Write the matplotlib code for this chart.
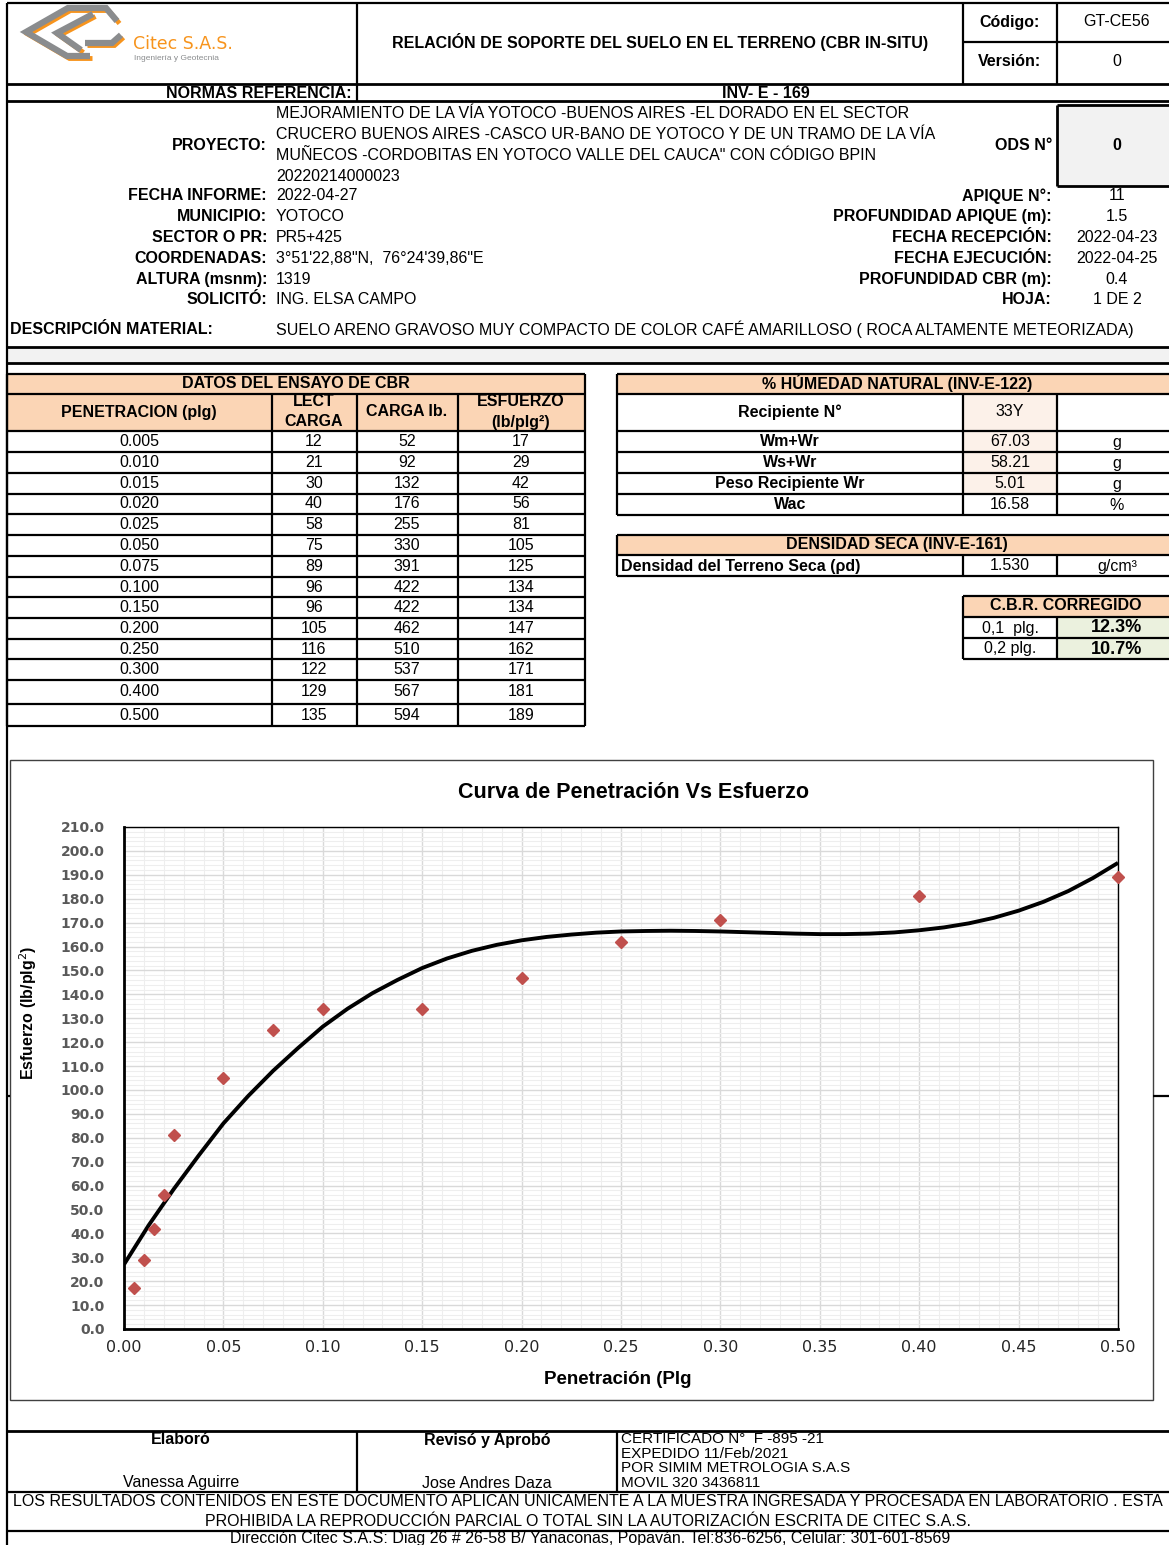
import numpy as np
import matplotlib
matplotlib.use("Agg")
import matplotlib.pyplot as plt
from matplotlib import font_manager
from matplotlib.patches import Rectangle
from matplotlib.ticker import MultipleLocator, FormatStrFormatter

plt.rcParams['font.family'] = ['Liberation Sans', 'DejaVu Sans']

# datos del ensayo CBR
penetracion = [0.005, 0.010, 0.015, 0.020, 0.025, 0.050, 0.075,
               0.100, 0.150, 0.200, 0.250, 0.300, 0.400, 0.500]
lect_carga = [12, 21, 30, 40, 58, 75, 89, 96, 96, 105, 116, 122, 129, 135]
carga_lb = [52, 92, 132, 176, 255, 330, 391, 422, 422, 462, 510, 537, 567, 594]
esfuerzo = [17, 29, 42, 56, 81, 105, 125, 134, 134, 147, 162, 171, 181, 189]

# curva corregida (lb/plg2), cada 0.0125 plg
curva_x = [0.0, 0.0125, 0.025, 0.0375, 0.05, 0.0625, 0.075, 0.0875, 0.1, 0.1125,
           0.125, 0.1375, 0.15, 0.1625, 0.175, 0.1875, 0.2, 0.2125, 0.225, 0.2375,
           0.25, 0.2625, 0.275, 0.2875, 0.3, 0.3125, 0.325, 0.3375, 0.35, 0.3625,
           0.375, 0.3875, 0.4, 0.4125, 0.425, 0.4375, 0.45, 0.4625, 0.475, 0.4875,
           0.5]
curva_y = [27.0, 43.5, 58.5, 72.5, 86.0, 97.5, 108.0, 117.5, 126.5, 134.0,
           140.5, 146.0, 151.0, 155.0, 158.2, 160.7, 162.6, 164.0, 165.0, 165.8,
           166.3, 166.5, 166.6, 166.5, 166.3, 166.0, 165.7, 165.4, 165.2, 165.2,
           165.4, 165.9, 166.8, 168.0, 169.7, 172.0, 175.0, 178.7, 183.2, 188.7,
           195.0]

# humedad natural
hum_labels = ["Wm+Wr", "Ws+Wr", "Peso Recipiente Wr", "Wac"]
hum_values = ["67.03", "58.21", "5.01", "16.58"]
hum_units = ["g", "g", "g", "%"]
recipiente = "33Y"
densidad_seca = "1.530"
cbr_labels = ["0,1  plg.", "0,2 plg."]
cbr_values = ["12.3%", "10.7%"]

info_left = [("FECHA INFORME:", "2022-04-27"),
             ("MUNICIPIO:", "YOTOCO"),
             ("SECTOR O PR:", "PR5+425"),
             ("COORDENADAS:", "3°51'22,88\"N,  76°24'39,86\"E"),
             ("ALTURA (msnm):", "1319"),
             ("SOLICITÓ:", "ING. ELSA CAMPO")]
info_right = [("APIQUE N°:", "11"),
              ("PROFUNDIDAD APIQUE (m):", "1.5"),
              ("FECHA RECEPCIÓN:", "2022-04-23"),
              ("FECHA EJECUCIÓN:", "2022-04-25"),
              ("PROFUNDIDAD CBR (m):", "0.4"),
              ("HOJA:", "1 DE 2")]
proyecto = ["MEJORAMIENTO DE LA VÍA YOTOCO -BUENOS AIRES -EL DORADO EN EL SECTOR",
            "CRUCERO BUENOS AIRES -CASCO UR-BANO DE YOTOCO Y DE UN TRAMO DE LA VÍA",
            "MUÑECOS -CORDOBITAS EN YOTOCO VALLE DEL CAUCA\" CON CÓDIGO BPIN",
            "20220214000023"]

W, H = 1169, 1545
FS = 11.5
PEACH = '#fbd5b5'
fig = plt.figure(figsize=(W / 100, H / 100), dpi=100)
doc = fig.add_axes([0, 0, 1, 1])
doc.set_xlim(0, W)
doc.set_ylim(H, 0)
doc.axis('off')


def hline(y, x0, x1, lw=1.6, c='black'):
    doc.plot([x0, x1], [y, y], color=c, lw=lw, solid_capstyle='butt')


def vline(x, y0, y1, lw=1.6, c='black'):
    doc.plot([x, x], [y0, y1], color=c, lw=lw, solid_capstyle='butt')


def box(x0, y0, x1, y1, fc):
    doc.add_patch(Rectangle((x0, y0), x1 - x0, y1 - y0, fc=fc, ec='none', zorder=0))


def txt(x, y, s, ha='center', bold=False, size=FS, color='black', **kw):
    doc.text(x, y, s, ha=ha, va='center', fontsize=size, color=color,
             fontweight='bold' if bold else 'normal', **kw)


# ---- encabezado ----
hline(3, 7, W)
hline(84, 7, W, 2)
hline(101, 7, W, 2)
vline(7, 3, H)
vline(357, 3, 101)
vline(963, 3, 84)
vline(1057, 3, 84)
hline(42, 963, W)

# logo
logo_paths = [[(117, 21), (106, 8), (68, 8), (26, 32), (67, 56), (90, 56)],
              [(93, 14), (57, 33), (81, 50)],
              [(85, 43), (112, 43), (121, 35)]]
for p in logo_paths:
    xs, ys = zip(*p)
    doc.plot([x + 2.5 for x in xs], [y + 2.5 for y in ys], color='#f7941d', lw=3.5,
             solid_joinstyle='miter', solid_capstyle='butt')
for p in logo_paths:
    xs, ys = zip(*p)
    doc.plot(xs, ys, color='#8a8c8e', lw=4.5, solid_joinstyle='miter',
             solid_capstyle='butt')
txt(133, 44, "Citec S.A.S.", ha='left', size=12.5, color='#f7941d',
    family='DejaVu Sans')
txt(134, 58, "Ingeniería y Geotecnia", ha='left', size=6, color='#8a8c8e')

txt(660, 42, "RELACIÓN DE SOPORTE DEL SUELO EN EL TERRENO (CBR IN-SITU)", bold=True)
txt(1010, 22, "Código:", bold=True)
txt(1117, 22, "GT-CE56")
txt(1010, 62, "Versión:", bold=True)
txt(1117, 62, "0")
txt(352, 93, "NORMAS REFERENCIA:", ha='right', bold=True)
txt(766, 93, "INV- E - 169", bold=True)

# ---- datos del proyecto ----
for i, line in enumerate(proyecto):
    txt(276, 114 + i * 20.7, line, ha='left')
txt(267, 145, "PROYECTO:", ha='right', bold=True)
box(1057, 105, W, 186, '#f2f2f2')
hline(105, 1057, W, 2)
hline(186, 1057, W, 2)
vline(1057, 105, 186, 2)
txt(1052, 145, "ODS N°", ha='right', bold=True)
txt(1117, 145, "0", bold=True)

for i, (lab, val) in enumerate(info_left):
    y = 196 + i * 20.8
    txt(267, y, lab, ha='right', bold=True)
    txt(276, y, val, ha='left')
for i, (lab, val) in enumerate(info_right):
    y = 196 + i * 20.8
    txt(1052, y, lab, ha='right', bold=True)
    txt(1117, y, val)

txt(10, 329, "DESCRIPCIÓN MATERIAL:", ha='left', bold=True)
txt(276, 329, "SUELO ARENO GRAVOSO MUY COMPACTO DE COLOR CAFÉ AMARILLOSO ( ROCA ALTAMENTE METEORIZADA)",
    ha='left')
box(7, 347, W, 363, '#f2f2f2')
hline(347, 7, W, 2)
hline(363, 7, W, 2)

# ---- tabla CBR ----
cols = [7, 272, 357, 458, 585]
rows = [431, 452, 473, 494, 514, 535, 556, 577, 597, 618, 639, 659, 680, 704, 726]
box(7, 374, 585, 431, PEACH)
hline(374, 7, 585)
hline(394, 7, 585)
for y in rows:
    hline(y, 7, 585)
for x in cols:
    vline(x, 374 if x in (7, 585) else 394, 726)
txt(296, 383, "DATOS DEL ENSAYO DE CBR", bold=True)
txt(139, 412, "PENETRACION (plg)", bold=True)
txt(314, 402, "LECT", bold=True)
txt(314, 422, "CARGA", bold=True)
txt(407, 412, "CARGA lb.", bold=True)
txt(521, 402, "ESFUERZO", bold=True)
txt(521, 422, "(lb/plg²)", bold=True)
for i in range(len(penetracion)):
    y = (rows[i] + rows[i + 1]) / 2
    txt(139, y, f"{penetracion[i]:.3f}")
    txt(314, y, str(lect_carga[i]))
    txt(407, y, str(carga_lb[i]))
    txt(521, y, str(esfuerzo[i]))

# ---- humedad natural ----
box(617, 374, W, 394, PEACH)
hrows = [431, 452, 473, 494, 515]
for y0, y1 in zip([394] + hrows[:-2], hrows[:-1]):
    box(963, y0, 1057, y1, '#fcf1e9')
for y in [374, 394] + hrows:
    hline(y, 617, W)
vline(617, 374, 515)
vline(963, 394, 515)
vline(1057, 394, 515)
txt(897, 383, "% HÚMEDAD NATURAL (INV-E-122)", bold=True)
txt(790, 412, "Recipiente N°", bold=True)
txt(1010, 412, recipiente)
for i in range(4):
    y = (hrows[i] + hrows[i + 1]) / 2
    txt(790, y, hum_labels[i], bold=True)
    txt(1010, y, hum_values[i])
    txt(1117, y + 1, hum_units[i])

# ---- densidad seca ----
box(617, 535, W, 555, PEACH)
for y in (535, 555, 576):
    hline(y, 617, W)
vline(617, 535, 576)
vline(963, 555, 576)
vline(1057, 555, 576)
txt(897, 544, "DENSIDAD SECA (INV-E-161)", bold=True)
txt(621, 566, "Densidad del Terreno Seca (ρd)", ha='left', bold=True)
txt(1010, 566, densidad_seca)
txt(1117, 566, "g/cm³")

# ---- CBR corregido ----
box(963, 596, W, 617, PEACH)
box(1057, 617, W, 659, '#ebf1de')
for y in (596, 617, 638, 659):
    hline(y, 963, W)
vline(963, 596, 659)
vline(1057, 617, 659)
txt(1066, 606, "C.B.R. CORREGIDO", bold=True)
for i in range(2):
    y = 628 + i * 21
    txt(1010, y, cbr_labels[i])
    txt(1117, y, cbr_values[i], bold=True, size=13)

# ---- marco de la grafica ----
doc.add_patch(Rectangle((10, 760), 1143, 640, fc='none', ec='#404040', lw=1))
hline(1096, 1153, W, 1.6)
hline(1096, 7, 10, 1.6)
txt(633, 793, "Curva de Penetración Vs Esfuerzo", bold=True, size=15.5)
txt(618, 1379, "Penetración (Plg", bold=True, size=13.5)

try:
    font_manager.findfont('Liberation Sans Narrow', fallback_to_default=False)
    ylab_font, ylab_size = 'Liberation Sans Narrow', 14
except ValueError:
    ylab_font, ylab_size = 'Liberation Sans', 11.5
doc.text(28, 1013, "Esfuerzo (lb/plg$^2$)", rotation=90, ha='center', va='center',
         fontsize=ylab_size, fontweight='bold', family=ylab_font)

# ---- pie ----
hline(1431, 7, W, 2)
vline(357, 1431, 1492)
vline(617, 1431, 1492)
hline(1492, 7, W)
hline(1531, 7, W)
txt(181, 1440, "Elaboró", bold=True)
txt(487, 1440, "Revisó y Aprobó", bold=True)
txt(181, 1483, "Vanessa Aguirre")
txt(487, 1483, "Jose Andres Daza")
for i, s in enumerate(["CERTIFICADO N°  F -895 -21", "EXPEDIDO 11/Feb/2021",
                       "POR SIMIM METROLOGIA S.A.S", "MOVIL 320 3436811"]):
    txt(621, 1439 + i * 14.6, s, ha='left', size=11)
txt(588, 1501, "LOS RESULTADOS CONTENIDOS EN ESTE DOCUMENTO APLICAN ÚNICAMENTE A LA MUESTRA "
    "INGRESADA Y PROCESADA EN LABORATORIO . ESTA")
txt(588, 1521, "PROHIBIDA LA REPRODUCCIÓN PARCIAL O TOTAL SIN LA AUTORIZACIÓN ESCRITA DE CITEC S.A.S.")
txt(590, 1539, "Dirección Citec S.A.S: Diag 26 # 26-58 B/ Yanaconas, Popaván. Tel:836-6256, "
    "Celular: 301-601-8569")

# ---- curva de penetracion ----
ax = fig.add_axes([124 / W, 1 - 1329 / H, (1118 - 124) / W, (1329 - 827) / H])
ax.set_xlim(0, 0.5)
ax.set_ylim(0, 210)
ax.xaxis.set_major_locator(MultipleLocator(0.05))
ax.xaxis.set_minor_locator(MultipleLocator(0.01))
ax.yaxis.set_major_locator(MultipleLocator(10))
ax.yaxis.set_minor_locator(MultipleLocator(2))
ax.xaxis.set_major_formatter(FormatStrFormatter('%.2f'))
ax.yaxis.set_major_formatter(FormatStrFormatter('%.1f'))
ax.grid(which='major', color='#d9d9d9', lw=1)
ax.grid(which='minor', color='#eeeeee', lw=0.8)
ax.set_axisbelow(True)
ax.tick_params(which='both', length=0)
ax.tick_params(axis='y', pad=14)
ax.tick_params(axis='x', pad=8)
for lab in ax.get_yticklabels():
    lab.set_family('DejaVu Sans')
    lab.set_fontweight('bold')
    lab.set_fontsize(10)
    lab.set_color('#595959')
for lab in ax.get_xticklabels():
    lab.set_family('DejaVu Sans')
    lab.set_fontsize(11.5)
    lab.set_color('#262626')
for s in ax.spines.values():
    s.set_color('black')
    s.set_linewidth(1)
ax.spines['left'].set_linewidth(2)
ax.spines['bottom'].set_linewidth(2)

ax.plot(curva_x, curva_y, color='black', lw=2.8, zorder=3,
        solid_joinstyle='round', solid_capstyle='butt')
ax.plot(penetracion, esfuerzo, linestyle='none', marker='D', markersize=6.5,
        color='#c0504d', zorder=4, clip_on=False)

fig.savefig('out.png', dpi=100)
